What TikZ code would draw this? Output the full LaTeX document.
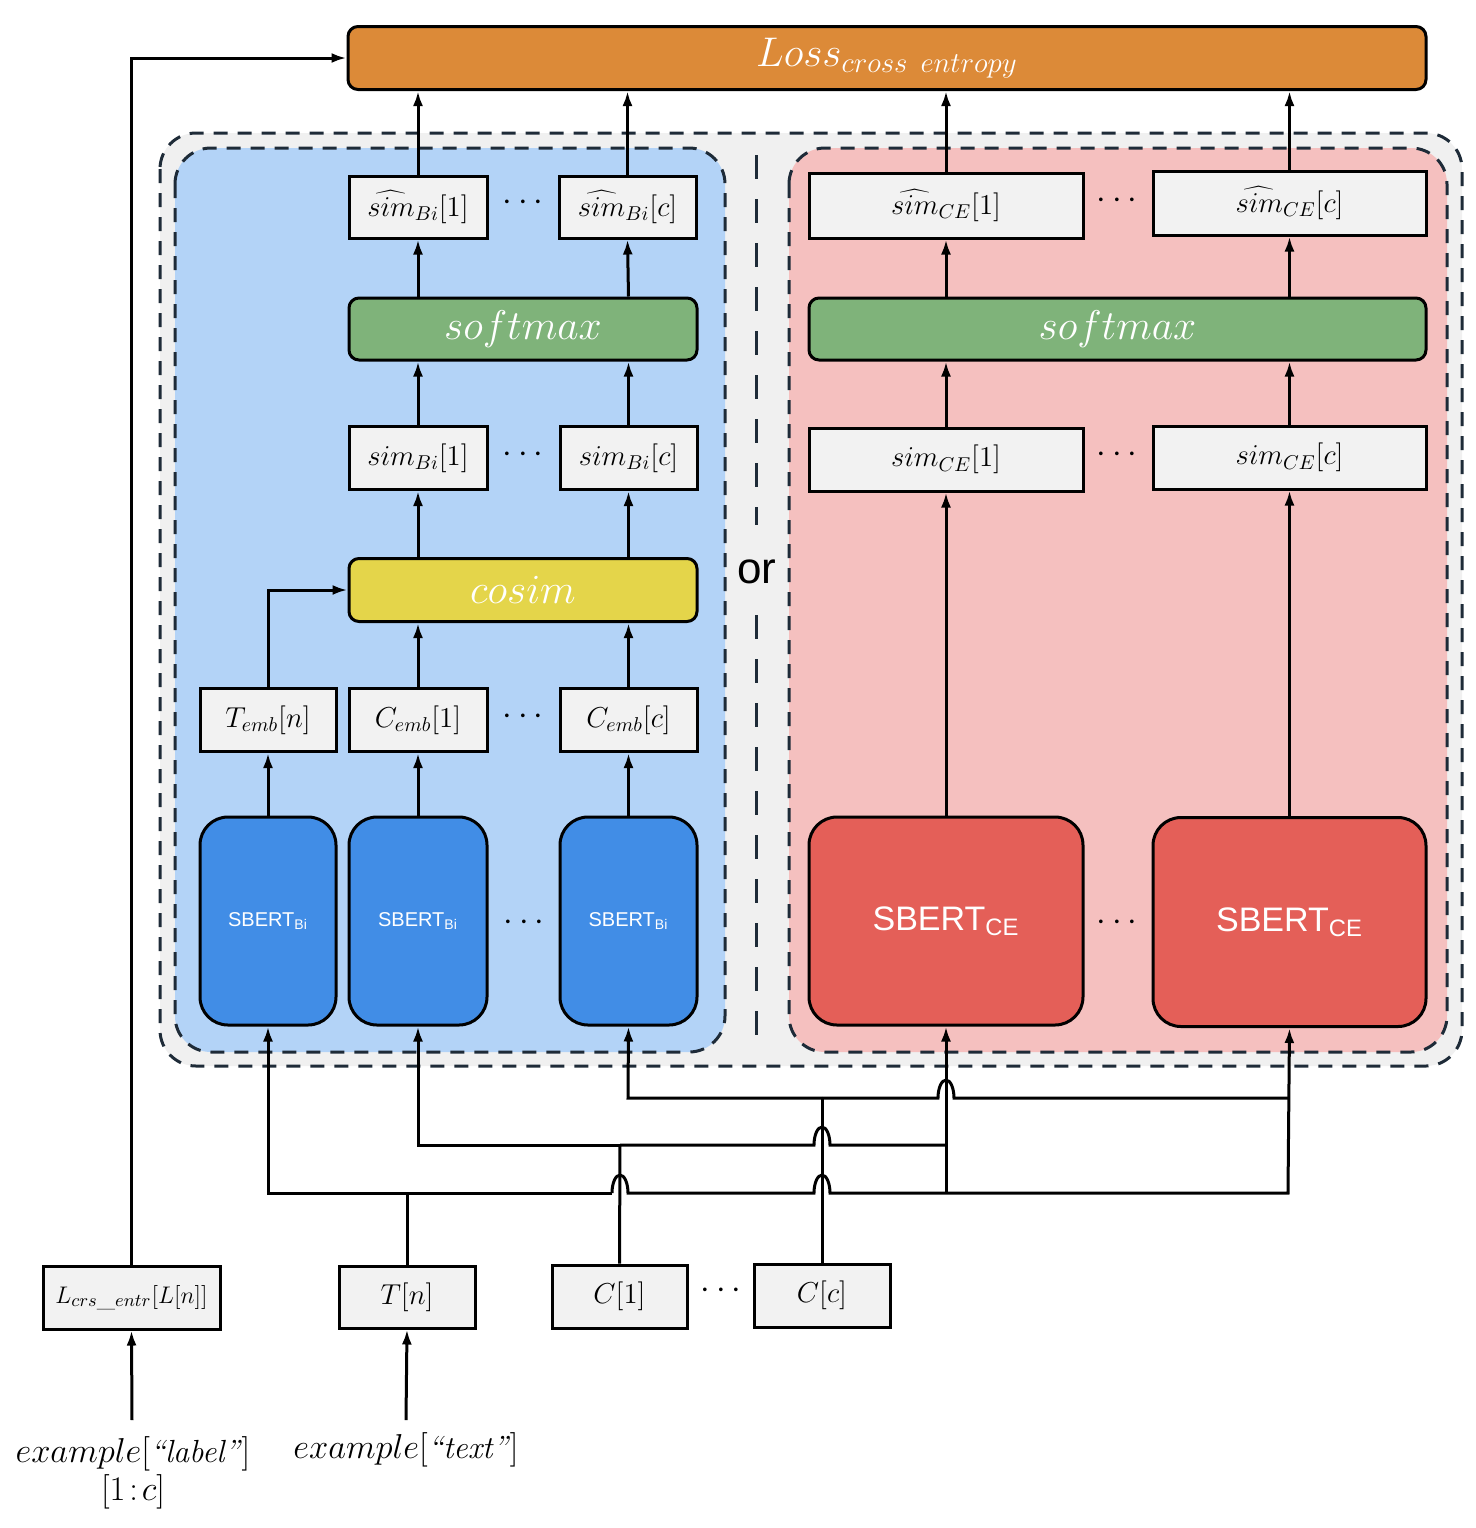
\documentclass[tikz,border=0pt]{standalone}
\usepackage{fontspec}
\newfontfamily\sbfont{Liberation Sans}
\usetikzlibrary{arrows.meta}
\definecolor{panelgray}{HTML}{F0F0F0}
\definecolor{panelblue}{HTML}{B3D3F7}
\definecolor{panelred}{HTML}{F5C0BF}
\definecolor{boxgray}{HTML}{F2F2F2}
\definecolor{lossorange}{HTML}{DC8A38}
\definecolor{smgreen}{HTML}{7FB37A}
\definecolor{cosyellow}{HTML}{E4D54A}
\definecolor{bertblue}{HTML}{418DE6}
\definecolor{bertred}{HTML}{E45F58}
\definecolor{dashdark}{HTML}{1E2B38}
\tikzset{every picture/.style={line width=1.5pt}}
\tikzset{
  box/.style={draw, fill=boxgray, inner sep=0pt, font=\fontsize{14}{16}\selectfont},
  bar/.style={draw, rounded corners=5pt, inner sep=0pt, text=white},
  bert/.style={draw, rounded corners=14pt, inner sep=0pt, text=white},
  panel/.style={draw=dashdark, dash pattern=on 7pt off 5pt, rounded corners=18pt},
  arr/.style={-{Latex[length=7.5pt,width=5pt]}},
  dots/.style={font=\fontsize{18}{20}\selectfont},
}

\begin{document}
\begin{tikzpicture}[x=0.5pt,y=-0.5pt]
        \useasboundingbox (0,0) rectangle (1476,1528);

        % panels
        \draw[panel, fill=panelgray] (160,133) rectangle (1462,1066);
        \draw[panel, fill=panelblue] (175,148) rectangle (725,1052);
        \draw[panel, fill=panelred] (789,148) rectangle (1447,1052);
        \draw[dashdark, dash pattern=on 12pt off 10pt] (756,155) -- (756,525);
        \draw[dashdark, dash pattern=on 12pt off 10pt] (756,615) -- (756,1052);
        \node (or) at (757,572) {\sbfont\fontsize{22}{24}\selectfont or};

        % loss
        \node[bar, fill=lossorange, minimum width=539pt, minimum height=31.5pt] (loss) at (887,58)
             {\fontsize{22}{24}\selectfont$Loss_{cross\ entropy}$};

        % Bi column
        \node[box, minimum width=69pt, minimum height=31pt] (hbi1) at (418,207) {$\widehat{sim}_{Bi}[1]$};
        \node[box, minimum width=68.5pt, minimum height=31pt] (hbic) at (627.5,207) {$\widehat{sim}_{Bi}[c]$};
        \node[dots] (hbid) at (523,203) {$\cdots$};
        \node[bar, fill=smgreen, minimum width=174pt, minimum height=31pt] (smbi) at (523,329)
             {\fontsize{22}{24}\selectfont$softmax$};
        \node[box, minimum width=69pt, minimum height=31.5pt] (sbi1) at (418,458) {$sim_{Bi}[1]$};
        \node[box, minimum width=68.5pt, minimum height=31.5pt] (sbic) at (628.5,458) {$sim_{Bi}[c]$};
        \node[dots] (sbid) at (523,455) {$\cdots$};
        \node[bar, fill=cosyellow, minimum width=174pt, minimum height=31.5pt] (cos) at (523,590)
             {\fontsize{22}{24}\selectfont$cosim$};
        \node[box, minimum width=68pt, minimum height=31.5pt] (temb) at (268,720) {$T_{emb}[n]$};
        \node[box, minimum width=69pt, minimum height=31.5pt] (cemb1) at (418,720) {$C_{emb}[1]$};
        \node[box, minimum width=68.5pt, minimum height=31.5pt] (cembc) at (628.5,720) {$C_{emb}[c]$};
        \node[dots] (cembd) at (523,717) {$\cdots$};
        \node[bert, fill=bertblue, minimum width=68pt, minimum height=104pt] (bi1) at (268,921)
             {\sbfont\fontsize{10}{12}\selectfont SBERT\textsubscript{Bi}};
        \node[bert, fill=bertblue, minimum width=69pt, minimum height=104pt] (bi2) at (418,921)
             {\sbfont\fontsize{10}{12}\selectfont SBERT\textsubscript{Bi}};
        \node[bert, fill=bertblue, minimum width=68.5pt, minimum height=104pt] (bi3) at (628.5,921)
             {\sbfont\fontsize{10}{12}\selectfont SBERT\textsubscript{Bi}};
        \node[dots] (bid) at (524,923) {$\cdots$};

        % CE column
        \node[box, minimum width=137pt, minimum height=32.5pt] (hce1) at (946,205.5) {$\widehat{sim}_{CE}[1]$};
        \node[box, minimum width=136.5pt, minimum height=32pt] (hcec) at (1289.5,203) {$\widehat{sim}_{CE}[c]$};
        \node[dots] (hced) at (1117,201) {$\cdots$};
        \node[bar, fill=smgreen, minimum width=308.5pt, minimum height=31pt] (smce) at (1117.5,329)
             {\fontsize{22}{24}\selectfont$softmax$};
        \node[box, minimum width=137pt, minimum height=31.5pt] (sce1) at (946,459.5) {$sim_{CE}[1]$};
        \node[box, minimum width=136.5pt, minimum height=31.5pt] (scec) at (1289.5,457.5) {$sim_{CE}[c]$};
        \node[dots] (sced) at (1117,455) {$\cdots$};
        \node[bert, fill=bertred, minimum width=137pt, minimum height=104pt] (ce1) at (946,921)
             {\sbfont\fontsize{17}{19}\selectfont SBERT\textsubscript{CE}};
        \node[bert, fill=bertred, minimum width=136.5pt, minimum height=104.5pt] (ce2) at (1289.5,922)
             {\sbfont\fontsize{17}{19}\selectfont SBERT\textsubscript{CE}};
        \node[dots] (ced) at (1117,923) {$\cdots$};

        % inputs
        \node[box, minimum width=88.5pt, minimum height=31.5pt, font=\fontsize{12.5}{15}\selectfont] (lab) at (131.5,1297.5) {$L_{crs\_entr}[L[n]]$};
        \node[box, minimum width=68pt, minimum height=31pt] (tn) at (407,1297) {$T[n]$};
        \node[box, minimum width=67.5pt, minimum height=31.5pt] (c1) at (619.5,1296.5) {$C[1]$};
        \node[box, minimum width=68pt, minimum height=31.5pt] (cc) at (822,1295.5) {$C[c]$};
        \node[dots] (cd) at (721,1291) {$\cdots$};
        \node[font=\fontsize{16}{19}\selectfont, align=center] (exlab) at (133,1473)
             {$example[$\textit{``label''}$]$\\$[1\!:\!c]$};
        \node[font=\fontsize{16}{19}\selectfont] (extxt) at (406,1450) {$example[$\textit{``text''}$]$};

        % arrows inside the Bi column
        \draw[arr] (bi1.north) -- (temb.south);
        \draw[arr] (bi2.north) -- (cemb1.south);
        \draw[arr] (bi3.north) -- (cembc.south);
        \draw[arr] (temb.north) |- (cos.west);
        \draw[arr] (cemb1.north) -- (cemb1.north |- cos.south);
        \draw[arr] (cembc.north) -- (cembc.north |- cos.south);
        \draw[arr] (cemb1.north |- cos.north) -- (sbi1.south);
        \draw[arr] (cembc.north |- cos.north) -- (sbic.south);
        \draw[arr] (sbi1.north) -- (sbi1.north |- smbi.south);
        \draw[arr] (sbic.north) -- (sbic.north |- smbi.south);
        \draw[arr] (sbi1.north |- smbi.north) -- (hbi1.south);
        \draw[arr] (sbic.north |- smbi.north) -- (hbic.south);
        \draw[arr] (hbi1.north) -- (hbi1.north |- loss.south);
        \draw[arr] (hbic.north) -- (hbic.north |- loss.south);

        % arrows inside the CE column
        \draw[arr] (ce1.north) -- (sce1.south);
        \draw[arr] (ce2.north) -- (scec.south);
        \draw[arr] (sce1.north) -- (sce1.north |- smce.south);
        \draw[arr] (scec.north) -- (scec.north |- smce.south);
        \draw[arr] (sce1.north |- smce.north) -- (hce1.south);
        \draw[arr] (scec.north |- smce.north) -- (hcec.south);
        \draw[arr] (hce1.north) -- (hce1.north |- loss.south);
        \draw[arr] (hcec.north) -- (hcec.north |- loss.south);

        % label to loss
        \draw[arr] (lab.north) |- (loss.west);
        \draw[arr] (132,1420) -- (lab.south);
        \draw[arr] (406,1420) -- (tn.south);

        % T[n] wiring
        \draw (tn.north) -- (407,1193);
        \draw[arr] (612,1193) -- (268,1193) -- (bi1.south);
        \draw[arr] (612,1193) arc[start angle=180,end angle=360,x radius=8,y radius=18]
             -- (814,1193) arc[start angle=180,end angle=360,x radius=8,y radius=18]
             -- (1288,1193) -- (ce2.south);
        \draw[arr] (946,1193) -- (ce1.south);

        % C[1] wiring
        \draw (c1.north) -- (620,1145);
        \draw[arr] (620,1145) -- (418,1145) -- (bi2.south);
        \draw (620,1145) -- (814,1145) arc[start angle=180,end angle=360,x radius=8,y radius=18] -- (946,1145);

        % C[c] wiring
        \draw (cc.north) -- (822,1098);
        \draw[arr] (822,1098) -- (628,1098) -- (bi3.south);
        \draw (822,1098) -- (938,1098) arc[start angle=180,end angle=360,x radius=8,y radius=18] -- (1288,1098);
\end{tikzpicture}
\end{document}
